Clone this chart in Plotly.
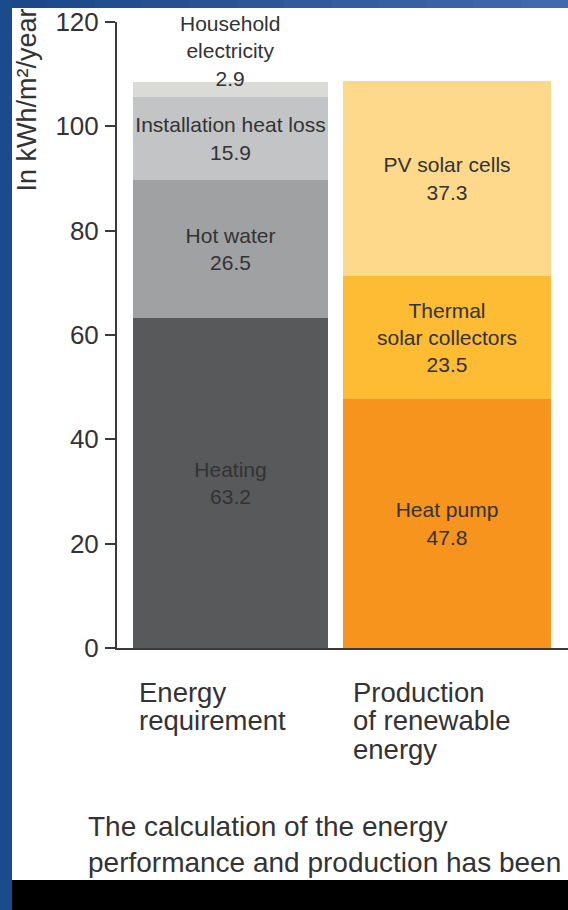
import plotly.graph_objects as go

# ---- data ----
categories = ["Energy requirement", "Production of renewable energy"]
req_labels = ["Heating", "Hot water", "Installation heat loss", "Household<br>electricity"]
req_values = [63.2, 26.5, 15.9, 2.9]
prod_labels = ["Heat pump", "Thermal<br>solar collectors", "PV solar cells"]
prod_values = [47.8, 23.5, 37.3]
tick_values = [0, 20, 40, 60, 80, 100, 120]
y_title = "In kWh/m²/year"
cat_lines = [["Energy", "requirement"], ["Production", "of renewable", "energy"]]
note_lines = ["The calculation of the energy", "performance and production has been"]

# ---- styles ----
req_colors = ["#58595b", "#a0a1a3", "#c3c4c6", "#dadad7"]
prod_colors = ["#f7941e", "#fdbc33", "#fed98c"]
TXT = "#333333"
FONT = "Liberation Sans, Arial, sans-serif"

W, H = 568, 910
L, R, T, B = 117, 0, 22, 262
PW, PH = W - L - R, H - T - B

def px(x):
    return (x - L) / PW

def py(y):
    return (H - B - y) / PH

fig = go.Figure()

# bar geometry (category units)
left_off, left_w = -0.429, 0.865
right_off, right_w = -0.498, 0.922

annotations = []

for i, (lab, v) in enumerate(zip(req_labels, req_values)):
    top = i == len(req_values) - 1
    fig.add_trace(go.Bar(
        x=[categories[0]], y=[v], width=[left_w], offset=[left_off],
        marker=dict(color=req_colors[i], line=dict(width=0)),
        text=None if top else [f"{lab}<br>{v}"], textposition="inside",
        insidetextanchor="middle", textangle=0, constraintext="none",
        textfont=dict(family=FONT, size=21, color=TXT),
        cliponaxis=False, showlegend=False, hoverinfo="skip",
    ))
    if top:
        annotations.append(dict(
            text=f"{lab}<br>{v}", x=0, xref="x", y=sum(req_values), yref="y",
            xanchor="center", yanchor="bottom", yshift=-10, showarrow=False,
            font=dict(family=FONT, size=21, color=TXT)))
for i, (lab, v) in enumerate(zip(prod_labels, prod_values)):
    fig.add_trace(go.Bar(
        x=[categories[1]], y=[v], width=[right_w], offset=[right_off],
        marker=dict(color=prod_colors[i], line=dict(width=0)),
        text=[f"{lab}<br>{v}"], textposition="inside",
        insidetextanchor="middle", textangle=0, constraintext="none",
        textfont=dict(family=FONT, size=21, color=TXT),
        cliponaxis=False, showlegend=False, hoverinfo="skip",
    ))

# category labels
cat_x = [137, 351]
line_y = [692, 720, 749]
for cx, lines in zip(cat_x, cat_lines):
    for j, t in enumerate(lines):
        annotations.append(dict(
            text=t, x=px(cx), y=py(line_y[j]), xref="paper", yref="paper",
            xanchor="left", yanchor="middle", showarrow=False,
            font=dict(family=FONT, size=27.5, color=TXT)))
# bottom note
for j, t in enumerate(note_lines):
    annotations.append(dict(
        text=t, x=px(86), y=py(826 + 36 * j), xref="paper", yref="paper",
        xanchor="left", yanchor="middle", showarrow=False,
        font=dict(family=FONT, size=28, color=TXT)))
# y-axis title
annotations.append(dict(
    text=y_title, x=px(26), y=py(7), xref="paper", yref="paper",
    xanchor="center", yanchor="top", textangle=-90, showarrow=False,
    font=dict(family=FONT, size=27, color=TXT)))

shapes = []
# top blue strip with gradient
n = 12
for k in range(n):
    f = k / (n - 1)
    r = int(0x1b + (0x40 - 0x1b) * f)
    g = int(0x48 + (0x6a - 0x48) * f)
    b = int(0x88 + (0xab - 0x88) * f)
    shapes.append(dict(type="rect", xref="paper", yref="paper",
                       x0=px(W * k / n), x1=px(W * (k + 1) / n + 1),
                       y0=py(8), y1=py(0), fillcolor=f"rgb({r},{g},{b})",
                       line=dict(width=0), layer="above"))
# left blue strip
shapes.append(dict(type="rect", xref="paper", yref="paper",
                   x0=px(0), x1=px(12), y0=py(H), y1=py(0),
                   fillcolor="#1c4b8c", line=dict(width=0), layer="above"))
# bottom black band
shapes.append(dict(type="rect", xref="paper", yref="paper",
                   x0=px(12), x1=px(W), y0=py(H), y1=py(880),
                   fillcolor="#000000", line=dict(width=0), layer="above"))

fig.update_layout(
    width=W, height=H,
    margin=dict(l=L, r=R, t=T, b=B, pad=0),
    paper_bgcolor="white", plot_bgcolor="white",
    barmode="stack", bargap=0,
    font=dict(family=FONT, color=TXT),
    xaxis=dict(type="category", range=[-0.5, 1.5], showticklabels=False,
               showgrid=False, zeroline=False, showline=True,
               linecolor="#3a3a3a", linewidth=2, ticks=""),
    yaxis=dict(range=[0, 120], tickvals=tick_values, showgrid=False,
               zeroline=False, showline=True, linecolor="#3a3a3a", linewidth=2,
               ticks="outside", ticklen=10, tickwidth=1.5, tickcolor="#3a3a3a",
               tickfont=dict(family=FONT, size=26, color=TXT),
               ticklabelstandoff=1),
    annotations=annotations, shapes=shapes,
)

fig.write_html("out.html", config={"displayModeBar": False},
               post_script="document.body.style.margin='0px';"
                           "document.body.style.overflow='hidden';")
